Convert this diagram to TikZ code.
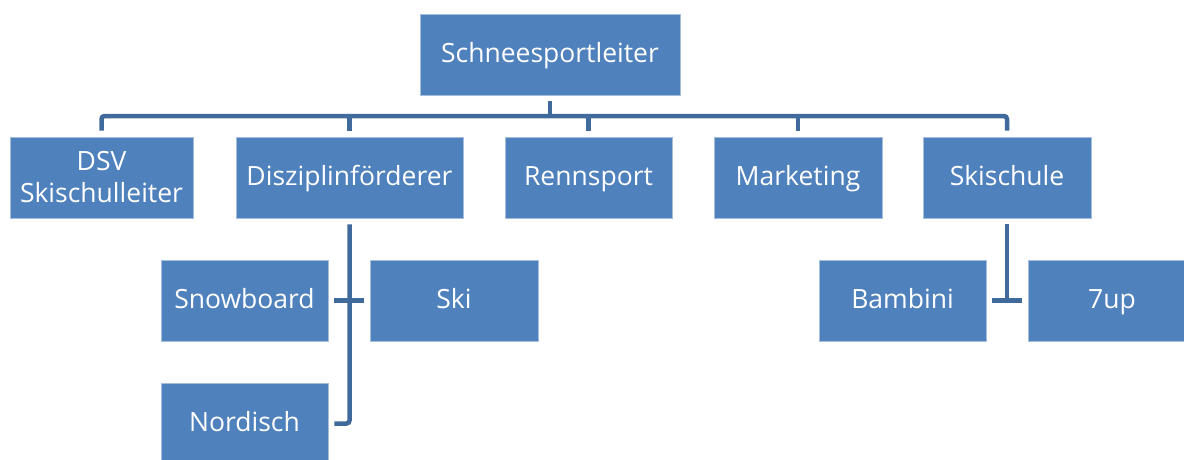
\documentclass[tikz,border=0pt]{standalone}
\usepackage{fontspec}
\setmainfont{Open Sans}
\definecolor{boxblue}{RGB}{79,129,189}
\definecolor{boxedge}{RGB}{165,190,222}
\definecolor{linkblue}{RGB}{64,106,156}
\begin{document}
\begin{tikzpicture}[x=1pt,y=-1pt,
		orgbox/.style={fill=boxblue,draw=boxedge,line width=0.8pt,text=white,minimum height=81pt,align=center,inner sep=0pt,text height=20pt,text depth=4pt,font=\fontsize{26.5}{32}\selectfont},
		link/.style={draw=linkblue,line width=4.5pt}]
				\useasboundingbox (0,0) rectangle (1184,460);
				\clip (0,0) rectangle (1184,460);
				\node[orgbox,minimum width=260pt] (leiter) at (550,54.5) {Schneesportleiter};
				\node[orgbox,minimum width=183pt,text height=,text depth=] (dsv) at (101.5,177.5) {DSV\\Skischulleiter};
				\node[orgbox,minimum width=227pt] (diszi) at (349.5,177.5) {Disziplinförderer};
				\node[orgbox,minimum width=167pt] (renn) at (588.5,177.5) {Rennsport};
				\node[orgbox,minimum width=168pt] (mark) at (798,177.5) {Marketing};
				\node[orgbox,minimum width=168pt] (schule) at (1007,177.5) {Skischule};
				\node[orgbox,minimum width=167pt] (snow) at (244.5,300.5) {Snowboard};
				\node[orgbox,minimum width=168pt] (ski) at (454,300.5) {Ski};
				\node[orgbox,minimum width=167pt] (nord) at (244.5,423.5) {Nordisch};
				\node[orgbox,minimum width=167pt] (bambini) at (902.5,300.5) {Bambini};
				\node[orgbox,minimum width=168pt] (sevenup) at (1112,300.5) {7up};
				\coordinate (bar) at (550,116);
				\draw[link] ([yshift=-6pt]leiter.south) -- (bar);
				\draw[link,rounded corners=3pt] ([yshift=6pt]dsv.north) |- (bar) -| ([yshift=6pt]schule.north);
				\draw[link] ([yshift=6pt]diszi.north) -- (diszi.north |- bar);
				\draw[link] ([yshift=6pt]renn.north) -- (renn.north |- bar);
				\draw[link] ([yshift=6pt]mark.north) -- (mark.north |- bar);
				\draw[link,rounded corners=3pt] ([yshift=-6pt]diszi.south) |- ([xshift=6pt]nord.east);
				\draw[link] ([xshift=6pt]snow.east) -- ([xshift=-6pt]ski.west);
				\draw[link] ([yshift=-6pt]schule.south) -- (schule.south |- bambini.east);
				\draw[link] ([xshift=6pt]bambini.east) -- ([xshift=-6pt]sevenup.west);
			\end{tikzpicture}
\end{document}
